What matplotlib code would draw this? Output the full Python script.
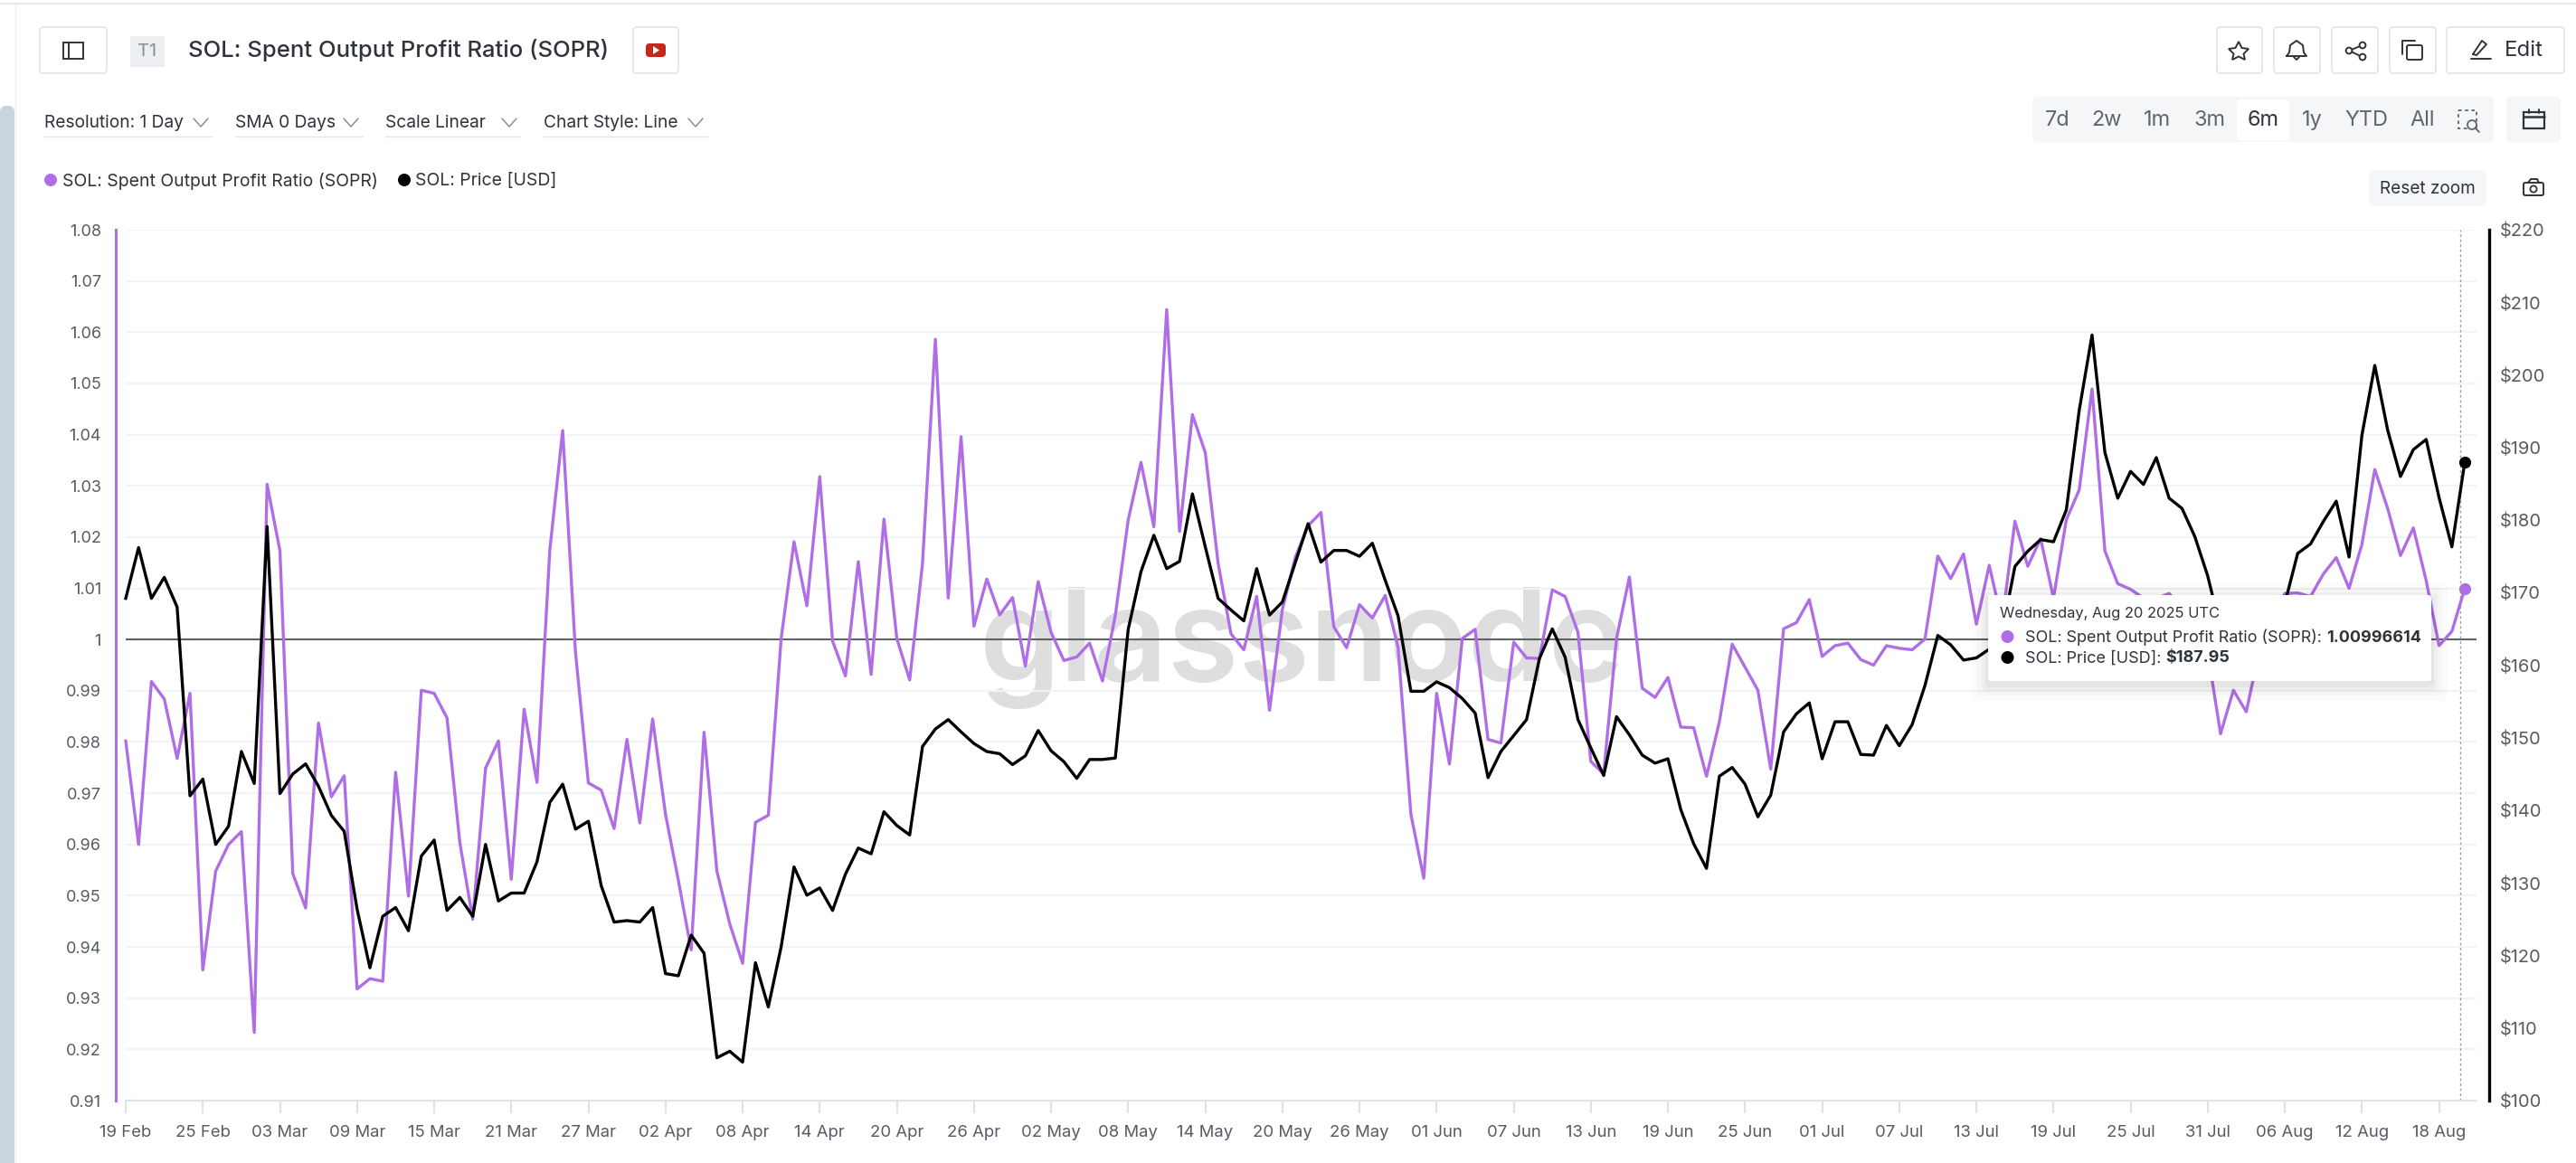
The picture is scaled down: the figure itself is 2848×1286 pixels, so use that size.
#!/usr/bin/env python3
# -*- coding: utf-8 -*-

import matplotlib
matplotlib.use("Agg")
import matplotlib.pyplot as plt
from matplotlib.patches import FancyBboxPatch, Rectangle, Circle, Polygon

plt.rcParams['font.family'] = ['Inter', 'DejaVu Sans']

W, H = 2848, 1286
PURPLE = '#b06ee6'
TXT = '#2f333a'
GREY = '#565b63'

# daily values, 19 Feb to 20 Aug 2025
sopr = [
    0.9802, 0.9600, 0.9918, 0.9884, 0.9768, 0.9895, 0.9355, 0.9548, 0.9600, 0.9625,
    0.9233, 1.0303, 1.0173, 0.9543, 0.9476, 0.9837, 0.9693, 0.9734, 0.9318, 0.9338,
    0.9333, 0.9741, 0.9499, 0.9901, 0.9895, 0.9847, 0.9603, 0.9454, 0.9749, 0.9802,
    0.9532, 0.9864, 0.9721, 1.0175, 1.0408, 0.9974, 0.9720, 0.9706, 0.9631, 0.9805,
    0.9642, 0.9845, 0.9659, 0.9530, 0.9394, 0.9819, 0.9548, 0.9445, 0.9368, 0.9643,
    0.9657, 1.0002, 1.0191, 1.0066, 1.0318, 0.9997, 0.9929, 1.0152, 0.9932, 1.0235,
    1.0002, 0.9921, 1.0149, 1.0586, 1.0081, 1.0396, 1.0026, 1.0118, 1.0048, 1.0082,
    0.9948, 1.0113, 1.0014, 0.9959, 0.9966, 0.9993, 0.9919, 1.0047, 1.0233, 1.0346,
    1.0220, 1.0644, 1.0211, 1.0439, 1.0365, 1.0149, 1.0011, 0.9980, 1.0084, 0.9862,
    1.0059, 1.0160, 1.0222, 1.0248, 1.0025, 0.9984, 1.0068, 1.0042, 1.0086, 0.9985,
    0.9659, 0.9534, 0.9895, 0.9757, 1.0002, 1.0020, 0.9805, 0.9798, 0.9995, 0.9964,
    0.9963, 1.0097, 1.0084, 1.0014, 0.9762, 0.9738, 1.0002, 1.0122, 0.9905, 0.9887,
    0.9926, 0.9829, 0.9828, 0.9733, 0.9839, 0.9991, 0.9946, 0.9901, 0.9747, 1.0021,
    1.0033, 1.0078, 0.9967, 0.9988, 0.9993, 0.9961, 0.9950, 0.9988, 0.9983, 0.9980,
    1.0001, 1.0163, 1.0119, 1.0167, 1.0030, 1.0145, 1.0035, 1.0231, 1.0143, 1.0197,
    1.0081, 1.0234, 1.0292, 1.0489, 1.0173, 1.0109, 1.0098, 1.0081, 1.0080, 1.0090,
    1.0060, 1.0020, 0.9975, 0.9816, 0.9901, 0.9859, 0.9976, 1.0040, 1.0090, 1.0091,
    1.0084, 1.0128, 1.0160, 1.0100, 1.0186, 1.0332, 1.0256, 1.0164, 1.0218, 1.0115,
    0.9988, 1.0016, 1.00996614,
]
price = [
    169.2, 176.2, 169.2, 172.1, 168.0, 142.0, 144.3, 135.3, 137.8, 148.1,
    143.7, 179.1, 142.3, 145.0, 146.4, 143.3, 139.3, 137.1, 126.4, 118.3,
    125.4, 126.6, 123.4, 133.7, 135.9, 126.2, 128.0, 125.4, 135.3, 127.5,
    128.6, 128.6, 132.9, 141.1, 143.6, 137.4, 138.5, 129.6, 124.6, 124.8,
    124.6, 126.6, 117.5, 117.2, 122.8, 120.3, 105.9, 106.8, 105.3, 119.0,
    112.9, 121.2, 132.2, 128.3, 129.3, 126.2, 131.2, 134.8, 134.0, 139.8,
    137.9, 136.6, 148.8, 151.2, 152.5, 150.8, 149.2, 148.1, 147.8, 146.3,
    147.5, 151.0, 148.2, 146.7, 144.4, 147.0, 147.0, 147.2, 164.9, 172.9,
    177.9, 173.3, 174.3, 183.6, 176.3, 169.2, 167.6, 166.1, 173.3, 166.9,
    168.7, 174.1, 179.5, 174.2, 175.8, 175.8, 175.0, 176.8, 171.7, 166.8,
    156.4, 156.4, 157.7, 156.9, 155.4, 153.4, 144.5, 148.1, 150.3, 152.5,
    160.9, 165.0, 161.1, 152.5, 148.6, 144.8, 152.9, 150.4, 147.6, 146.5,
    147.1, 140.1, 135.4, 132.0, 144.7, 145.9, 143.6, 139.1, 142.1, 150.8,
    153.3, 154.8, 147.1, 152.2, 152.2, 147.7, 147.6, 151.7, 148.9, 151.8,
    157.2, 164.1, 162.8, 160.7, 161.0, 162.2, 164.5, 173.6, 175.7, 177.3,
    177.0, 181.4, 195.1, 205.5, 189.3, 183.0, 186.7, 184.9, 188.6, 183.0,
    181.6, 177.7, 172.3, 165.0, 162.0, 160.0, 161.0, 163.0, 168.5, 175.4,
    176.7, 179.8, 182.6, 174.9, 191.7, 201.3, 192.4, 186.0, 189.7, 191.1,
    183.1, 176.3, 187.95,
]
date_labels = ['19 Feb', '25 Feb', '03 Mar', '09 Mar', '15 Mar', '21 Mar', '27 Mar', '02 Apr',
               '08 Apr', '14 Apr', '20 Apr', '26 Apr', '02 May', '08 May', '14 May', '20 May',
               '26 May', '01 Jun', '07 Jun', '13 Jun', '19 Jun', '25 Jun', '01 Jul', '07 Jul',
               '13 Jul', '19 Jul', '25 Jul', '31 Jul', '06 Aug', '12 Aug', '18 Aug']
sopr_ticks = [1.08, 1.07, 1.06, 1.05, 1.04, 1.03, 1.02, 1.01, 1,
              0.99, 0.98, 0.97, 0.96, 0.95, 0.94, 0.93, 0.92, 0.91]
price_ticks = [100, 110, 120, 130, 140, 150, 160, 170, 180, 190, 200, 210, 220]
range_labels = ['7d', '2w', '1m', '3m', '6m', '1y', 'YTD', 'All']
range_x = [2275, 2329, 2385, 2443, 2502, 2556, 2616, 2678]
dropdowns = [('Resolution: 1 Day', 49, 222, 234), ('SMA 0 Days', 260, 388, 401),
             ('Scale Linear', 426, 563, 575), ('Chart Style: Line', 601, 769, 782)]


def px(s):
    return s * 0.72


fig = plt.figure(figsize=(W / 100, H / 100), dpi=100, facecolor='white')

# main chart, pixel box 128..2752 x 254..1217
ax = fig.add_axes([128 / W, 1 - 1217 / H, (2752 - 128) / W, (1217 - 254) / H])
ax.patch.set_alpha(0)
step = (2725 - 139) / 182
grid_end = (2738 - 139) / step
ax.set_xlim((128 - 139) / step, (2752 - 139) / step)
ax.set_ylim(0.91, 1.08)
ax.hlines(sopr_ticks, 0, grid_end, color='#f1f3f5', lw=1.5, zorder=1)
ax.text(1440 / W, 1 - 753 / H, 'glassnode', transform=fig.transFigure, fontsize=px(143), color='#dedede',
        fontweight='semibold', ha='center', va='baseline', zorder=0)
ax.hlines(1, 0, grid_end, color='#5f6368', lw=1.5, zorder=2)
ax.vlines(182 - 10 / 27.9, 0.91, 1.08, color='#9a9ea4', lw=1, linestyles=(0, (2, 2)), zorder=2)

days = list(range(len(sopr)))
ax.plot(days, sopr, color=PURPLE, lw=2.4, solid_joinstyle='round', zorder=3)
ax.plot(days[-1], sopr[-1], 'o', color=PURPLE, ms=8.5, zorder=6)
ax.set_yticks(sopr_ticks, [str(t) for t in sopr_ticks])
ax.set_xticks(days[::6], date_labels)
ax.tick_params(axis='y', length=0, pad=px(16), labelsize=px(18), labelcolor=GREY)
ax.tick_params(axis='x', length=14 * 0.72, width=1.5, color='#dfe2e6', pad=px(13), labelsize=px(18.5), labelcolor=GREY)
for s in ['top', 'right']:
    ax.spines[s].set_visible(False)
ax.spines['left'].set_color(PURPLE)
ax.spines['left'].set_linewidth(2.2)
ax.spines['bottom'].set_bounds(0, grid_end)
ax.spines['bottom'].set_color('#dfe2e6')
ax.spines['bottom'].set_linewidth(1.5)

ax2 = ax.twinx()
ax2.set_ylim(100, 220)
ax2.plot(days, price, color='black', lw=2.4, solid_joinstyle='round', zorder=4)
ax2.plot(days[-1], price[-1], 'o', color='black', ms=8.5, zorder=6)
ax2.set_yticks(price_ticks, ['$%d' % t for t in price_ticks])
ax2.tick_params(axis='y', length=0, pad=px(12), labelsize=px(20), labelcolor=GREY)
for s in ['top', 'left', 'bottom']:
    ax2.spines[s].set_visible(False)
ax2.spines['right'].set_color('black')
ax2.spines['right'].set_linewidth(2.4)

# page furniture in pixel coordinates
ui = fig.add_axes([0, 0, 1, 1], zorder=10)
ui.set_xlim(0, W)
ui.set_ylim(H, 0)
ui.axis('off')
ui.patch.set_alpha(0)


def box(x0, y0, x1, y1, fc='white', ec='#e1e3e7', r=4, lw=1.2, **kw):
    p = FancyBboxPatch((x0 + r, y0 + r), x1 - x0 - 2 * r, y1 - y0 - 2 * r,
                       boxstyle='round,pad=%d,rounding_size=%d' % (r, r), fc=fc, ec=ec, lw=lw, **kw)
    ui.add_patch(p)


def seg(xs, ys, c=TXT, lw=1.6):
    ui.plot(xs, ys, color=c, lw=lw, solid_capstyle='round', solid_joinstyle='round')


def label(x, y, s, size=22, c=TXT, ha='left', va='center', **kw):
    ui.text(x, y + 2, s, fontsize=px(size), color=c, ha=ha, va=va, **kw)


ui.add_patch(Rectangle((0, 0), W, 4, fc='white', ec='none'))
seg([0, W], [4, 4], '#e6e8ea', 1.5)
seg([17, 17], [4, H], '#eceef0', 1)
box(0, 117, 16, H + 20, fc='#c9d5de', ec='none', r=7)

# header
box(44, 30, 118, 81)
ui.add_patch(Rectangle((70, 47), 22, 18, fc='none', ec=TXT, lw=1.4))
seg([76, 76], [47, 65], TXT, 1.4)
ui.add_patch(Rectangle((144, 40), 38, 34, fc='#eceef1', ec='none'))
label(163, 55, 'T1', 20, '#8a8f96', ha='center')
label(208, 54, 'SOL: Spent Output Profit Ratio (SOPR)', 25.6, TXT, fontweight='medium')
box(700, 30, 750, 81)
box(714, 48, 736, 63, fc='#c4281c', ec='none', r=4)
ui.add_patch(Polygon([(722, 51), (722, 60), (729, 55.5)], fc='white', ec='none'))

for x0, x1 in [(2451, 2501), (2514, 2565), (2578, 2629), (2642, 2693), (2705, 2835)]:
    box(x0, 30, x1, 81)
# star
ui.add_patch(Polygon([(2475, 46), (2478.5, 53), (2486, 54), (2480.5, 59.5), (2482, 66), (2475, 62.5),
                      (2468, 66), (2469.5, 59.5), (2464, 54), (2471.5, 53)], fc='none', ec=TXT, lw=1.4))
# bell
seg([2528, 2531, 2532, 2539, 2546, 2547, 2550, 2528], [62, 58, 50, 45, 50, 58, 62, 62], TXT, 1.4)
seg([2536, 2539, 2542], [63, 66, 63], TXT, 1.4)
# share
seg([2612, 2597, 2612], [50, 56, 63], TXT, 1.4)
for cx, cy in [(2612, 50), (2597, 56), (2612, 63)]:
    ui.add_patch(Circle((cx, cy), 3.4, fc='white', ec=TXT, lw=1.4, zorder=5))
# copy
box(2661, 50, 2678, 66, fc='none', ec=TXT, r=2, lw=1.4)
seg([2656, 2656, 2670], [60, 45, 45], TXT, 1.4)
# pencil
seg([2734, 2738, 2749, 2744, 2734], [60, 61, 49, 45, 60], TXT, 1.4)
seg([2732, 2754], [65, 65], TXT, 1.4)
label(2769, 54, 'Edit', 24, TXT)

# dropdowns
for name, x, chev, end in dropdowns:
    label(x, 134, name, 19.2, TXT)
    seg([chev - 8, chev, chev + 8], [131, 140, 131], '#8a8f96', 1.1)
    seg([x, end], [151, 151], '#e3e5e8', 1)

# range selector
box(2247, 107, 2757, 157, fc='#f5f6f8', ec='none', r=6)
box(2473, 110, 2531, 155, fc='white', ec='none', r=4)
for name, x in zip(range_labels, range_x):
    label(x, 131, name, 23.5, TXT if name == '6m' else '#60656c', ha='center')
# zoom icon
ui.add_patch(Rectangle((2718, 122), 20, 20, fc='none', ec='#60656c', lw=1.3, ls=(0, (2, 2))))
ui.add_patch(Circle((2733, 138), 5, fc='#f5f6f8', ec='#60656c', lw=1.3))
seg([2737, 2741], [142, 146], '#60656c', 1.3)
# calendar
box(2771, 107, 2831, 157, fc='#f5f6f8', ec='none', r=6)
ui.add_patch(Rectangle((2790, 124), 23, 18, fc='none', ec=TXT, lw=1.6))
seg([2790, 2813], [129, 129], TXT, 1.8)
seg([2796, 2796], [121, 125], TXT, 1.4)
seg([2807, 2807], [121, 125], TXT, 1.4)

# legend
ui.add_patch(Circle((56, 199), 7, fc=PURPLE, ec='none'))
label(69, 198, 'SOL: Spent Output Profit Ratio (SOPR)', 19.4, TXT)
ui.add_patch(Circle((447, 199), 7, fc='black', ec='none'))
label(459, 198, 'SOL: Price [USD]', 19.4, TXT)

# reset zoom, camera
box(2619, 188, 2749, 228, fc='#f5f6f8', ec='none', r=5)
label(2684, 207, 'Reset zoom', 19, TXT, ha='center')
box(2790, 202, 2812, 216, fc='none', ec=TXT, r=2, lw=1.4)
seg([2795, 2798, 2805, 2807], [202, 198, 198, 202], TXT, 1.4)
ui.add_patch(Circle((2801, 209), 3.6, fc='none', ec=TXT, lw=1.3))

# tooltip
for grow, a in [(18, 0.015), (12, 0.02), (7, 0.03), (3, 0.04)]:
    box(2198 - grow, 658 - grow + 4, 2688 + grow, 753 + grow + 4, fc='black', ec='none', r=6, alpha=a)
box(2198, 658, 2688, 753, fc='white', ec='none', r=3)
label(2211, 677, 'Wednesday, Aug 20 2025 UTC', 16.5, TXT)
ui.add_patch(Circle((2219.5, 704), 7, fc=PURPLE, ec='none'))
ui.add_patch(Circle((2219.5, 727), 7, fc='black', ec='none'))
t1 = ui.text(2239, 705, 'SOL: Spent Output Profit Ratio (SOPR): ', fontsize=px(18), color=TXT, va='center')
ui.annotate('%.8f' % sopr[-1], xy=(1, 0.5), xycoords=t1, va='center', fontsize=px(18),
            color=TXT, fontweight='bold')
t2 = ui.text(2239, 728, 'SOL: Price [USD]: ', fontsize=px(18), color=TXT, va='center')
ui.annotate('$%.2f' % price[-1], xy=(1, 0.5), xycoords=t2, va='center', fontsize=px(18),
            color=TXT, fontweight='bold')

fig.savefig('out.png', dpi=100)
